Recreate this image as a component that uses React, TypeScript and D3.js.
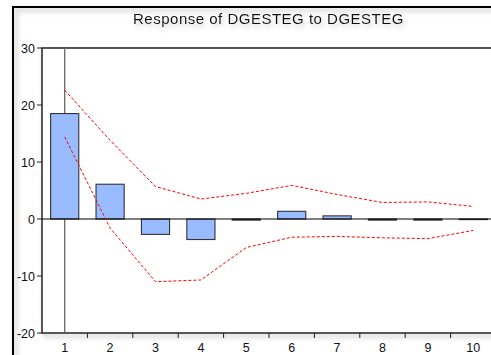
import React from "react";
import * as d3 from "d3";

const periods = ["1", "2", "3", "4", "5", "6", "7", "8", "9", "10"];
const response = [18.5, 6.1, -2.7, -3.6, -0.2, 1.35, 0.55, -0.2, -0.2, 0.0];
const upperBand = [22.6, 13.8, 5.7, 3.5, 4.5, 5.9, 4.3, 2.9, 3.0, 2.2];
const lowerBand = [14.4, -1.6, -11.0, -10.7, -5.0, -3.2, -3.05, -3.3, -3.45, -2.0];
const yTicks = [-20, -10, 0, 10, 20, 30];
const title = "Response of DGESTEG to DGESTEG";

export default function App() {
  const W = 491, H = 355;
  const left = 42, top = 48, bottom = 333;
  const bandW = 45.4;
  const x = d3.scaleBand<string>().domain(periods).range([left, left + bandW * periods.length]).paddingInner(0).paddingOuter(0);
  const y = d3.scaleLinear().domain([-20, 30]).range([bottom, top]);
  const cx = (p: string) => (x(p) as number) + x.bandwidth() / 2;
  const barW = x.bandwidth() * 0.62;
  const line = d3.line<number>().x((_, i) => cx(periods[i])).y((d) => y(d));
  const right = left + bandW * periods.length;

  return (
    <svg width={W} height={H} style={{ position: "absolute", left: 0, top: 0, background: "#fff" }}>
      <defs>
        <filter id="sh" x="-10%" y="-10%" width="120%" height="120%">
          <feGaussianBlur stdDeviation="2.5" />
        </filter>
        <filter id="tsh" x="-5%" y="-50%" width="110%" height="200%">
          <feDropShadow dx="2" dy="3" stdDeviation="2" floodColor="#999" floodOpacity="0.5" />
        </filter>
      </defs>
      <g filter="url(#sh)" opacity={0.4}>
        <rect x={16} y={10} width={W} height={H} fill="none" stroke="#888" strokeWidth={3} />
        <rect x={left + 3} y={top + 3} width={right - left} height={bottom - top} fill="none" stroke="#888" strokeWidth={3} />
      </g>
      <rect x={13} y={7} width={W} height={H} fill="none" stroke="#000" strokeWidth={2} />
      <text x={268.5} y={23.5} textAnchor="middle" fontFamily="Liberation Sans, Arial, sans-serif" fontSize={15} letterSpacing={0.5} fill="#111" filter="url(#tsh)">
        {title}
      </text>
      <rect x={left} y={top} width={right - left} height={bottom - top} fill="#fff" stroke="#222" strokeWidth={1.5} />
      <line x1={cx(periods[0])} x2={cx(periods[0])} y1={top} y2={bottom} stroke="#666" strokeWidth={1.3} />
      {response.map((v, i) => {
        const y0 = y(0);
        const yv = y(v);
        const h = Math.max(Math.abs(yv - y0), 0.6);
        return (
          <rect key={i} x={cx(periods[i]) - barW / 2} y={Math.min(yv, y0)} width={barW} height={h}
            fill="#99BBFF" stroke="#333" strokeWidth={1.1} />
        );
      })}
      <line x1={left} x2={right} y1={y(0)} y2={y(0)} stroke="#000" strokeWidth={1.2} />
      <path d={line(upperBand) || ""} fill="none" stroke="#FF0000" strokeWidth={1} strokeDasharray="3,2" />
      <path d={line(lowerBand) || ""} fill="none" stroke="#FF0000" strokeWidth={1} strokeDasharray="3,2" />
      {yTicks.map((t) => (
        <g key={t}>
          <line x1={left - 5} x2={left} y1={y(t)} y2={y(t)} stroke="#222" strokeWidth={1} />
          <text x={left - 7} y={y(t) + 4.5} textAnchor="end" fontFamily="Liberation Sans, Arial, sans-serif" fontSize={12.5} fill="#111">
            {t}
          </text>
        </g>
      ))}
      {periods.map((p, i) => (
        <g key={p}>
          {i > 0 && <line x1={x(p) as number} x2={x(p) as number} y1={bottom} y2={bottom + 5} stroke="#222" strokeWidth={1} />}
          <text x={cx(p)} y={bottom + 19} textAnchor="middle" fontFamily="Liberation Sans, Arial, sans-serif" fontSize={12.5} fill="#111">
            {p}
          </text>
        </g>
      ))}
    </svg>
  );
}
